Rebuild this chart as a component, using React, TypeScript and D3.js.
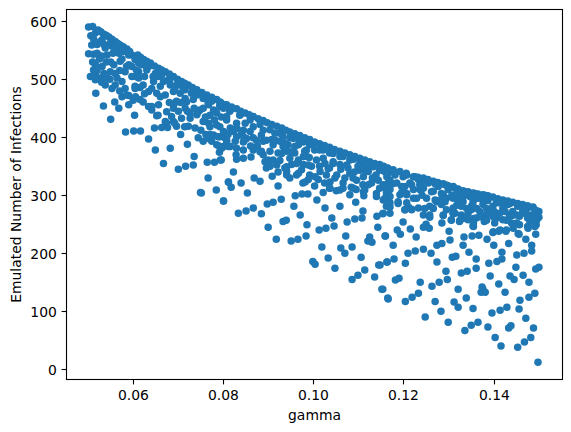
import React from "react";
import * as d3 from "d3";

const xTicks = [0.06, 0.08, 0.1, 0.12, 0.14];
const yTicks = [0, 100, 200, 300, 400, 500, 600];
const xLabel = "gamma";
const yLabel = "Emulated Number of Infections";

const lowerRight: [number, number][] = [
[.1497,12],[.1452,38],[.1415,40],[.1467,47],[.1481,55],[.1402,55],[.1487,71],[.1432,71],[.1437,75],[.1386,73],[.1335,67],[.1349,76],[.1364,81],[.1298,81],[.1247,90],[.1470,88],[.1395,97],[.1413,102],[.1428,107],[.1455,104],[.1353,105],[.1282,100],[.1320,107],[.1311,116],[.1269,117],[.1338,123],[.1203,117],[.1218,124],[.1232,131],[.1165,121],[.1153,138],[.1457,119],[.1477,124],[.1490,131],[.1424,133],[.1373,142],[.1375,138],[.1371,133],[.1380,133],[.1320,138],[.1262,143],[.1278,150],[.1296,155],[.1236,150],[.1181,154],[.1189,157],[.1410,147],[.1477,150],[.1444,155],[.1435,161],[.1464,162],[.1391,161],[.1327,166],[.1340,169],[.1293,169],[.1360,174],[.1448,176],[.1492,173],[.1499,176],[.1388,183],[.1406,186],[.1417,190],[.1360,190],[.1273,185],[.1203,183],[.1178,190],[.1163,185],[.1147,180],[.1307,193],[.1315,195],[.1450,197],[.1466,200],[.1483,204],[.1417,202],[.1344,202],[.1260,200],[.1243,207],[.1225,204],[.1209,200],[.1176,214],[.1331,214],[.1273,214],[.1284,217],[.1399,214],[.1483,214],[.1302,223],[.1432,217],[.1384,224],[.1470,224],[.1333,228],[.1351,230],[.1366,231],[.1159,230],[.1227,228],[.1300,238],[.1192,233],[.1185,240],[.1214,242],[.1492,233],[.1455,233],[.1243,245],[.1249,250],[.1256,243],[.1198,254],[.1284,252],[.1353,247],[.1397,236],[.1410,238],[.1426,238],
];

const lowerMiddle: [number, number][] = [
[.0822,340],[.0811,323],[.0817,314],[.0839,321],[.0853,304],[.0800,290],[.0833,269],[.0850,273],[.0866,278],[.0884,268],[.0897,285],[.0910,288],[.0928,293],[.0959,299],[.0974,302],[.0987,302],[.1007,292],[.1021,305],[.0921,316],[.0868,330],[.0881,324],[.0908,333],[.0921,340],[.0956,281],[.0970,266],[.1025,278],[.1058,281],[.1040,261],[.1074,254],[.1045,247],[.1027,243],[.1012,240],[.0985,249],[.0932,255],[.0939,257],[.0899,245],[.0917,224],[.0950,221],[.0965,224],[.0983,230],[.1018,211],[.1071,230],[.1060,209],[.1069,200],[.1085,211],[.1105,193],[.1032,192],[.0998,186],[.1003,181],[.1047,174],[.1085,155],[.1098,162],[.1113,171],[.1135,159],[.1144,180],[.1162,185],[.1151,138],[.1164,123],[.1120,221],[.1124,228],[.1129,219],[.1158,230],[.1142,245],[.1091,259],[.1107,261],[.1109,273],[.1140,264],[.1153,268],[.1093,288],
];

const lowerLeft: [number, number][] = [
[.0517,476],[.0534,454],[.0550,431],[.0559,461],[.0568,450],[.0603,438],[.0583,409],[.0601,411],[.0616,411],[.0634,397],[.0649,378],[.0682,381],[.0667,355],[.0720,388],[.0735,367],[.0700,345],[.0716,350],[.0733,352],[.0764,357],[.0780,357],[.0793,361],[.0766,330],[.0749,305],[.0751,304],[.0784,309],[.0800,290],[.0811,323],[.0791,374],[.0744,399],[.0755,393],[.0761,405],[.0647,416],[.0663,417],[.0676,417],[.0705,405],
];

const bandLeft: [number, number][] = [
[.0501,590],[.0510,591],[.0506,575],[.0508,559],[.0501,544],[.0512,543],[.0522,585],[.0534,578],[.0546,573],[.0560,565],[.0571,559],[.0586,552],[.0597,542],[.0610,542],[.0623,534],[.0638,528],[.0656,519],[.0671,513],[.0689,505],[.0707,496],[.0722,490],[.0741,482],[.0763,473],[.0785,465],[.0803,456],
[.0527,565],[.0538,554],[.0520,545],[.0553,557],[.0568,545],[.0590,542],[.0542,542],[.0516,525],[.0531,522],[.0505,505],[.0516,499],[.0527,502],[.0538,490],[.0542,502],[.0557,525],[.0571,531],[.0582,513],[.0597,522],[.0612,528],[.0564,502],[.0575,496],[.0553,484],[.0575,470],[.0590,472],[.0604,488],[.0615,486],[.0590,456],[.0615,465],[.0634,453],[.0641,447],[.0656,456],[.0652,437],[.0634,479],[.0645,496],[.0656,505],[.0667,496],[.0682,490],[.0671,473],[.0689,479],[.0704,476],[.0715,467],[.0733,465],[.0696,462],[.0689,450],[.0715,450],[.0674,444],[.0671,427],[.0689,427],[.0707,433],[.0726,433],[.0741,439],[.0748,447],[.0767,456],[.0755,467],[.0778,447],[.0785,442],[.0800,450],[.0807,436],[.0767,424],[.0785,421],[.0800,410],[.0815,416],[.0722,419],[.0737,416],[.0696,419],[.0778,404],[.0792,401],[.0774,393],[.0807,390],[.0785,387],[.0800,384],[.0815,384],[.0612,502],[.0634,522],[.0652,476],[.0660,488],[.0704,490],[.0715,482],[.0741,473],[.0770,467],[.0792,453],[.0815,447],
[.0516,580],[.0531,568],[.0549,562],[.0564,554],[.0579,548],[.0604,534],[.0619,525],[.0630,516],[.0649,510],[.0678,499],[.0696,490],[.0733,479],[.0752,473],[.0774,462],[.0792,456],[.0512,516],[.0516,508],[.0549,513],[.0597,505],[.0612,513],
[.0512,570],[.0520,560],[.0530,540],[.0540,530],[.0525,535],[.0535,510],[.0550,530],[.0548,500],[.0560,490],[.0570,515],
];

const bandMiddle: [number, number][] = [
[.0807,456],[.0829,449],[.0848,442],[.0866,436],[.0888,429],[.0907,422],[.0929,416],[.0947,409],[.0969,403],[.0991,396],[.1013,389],[.1035,383],[.1058,376],[.1080,370],[.1102,364],[.1124,358],[.1146,353],[.1164,347],
[.0814,445],[.0837,439],[.0859,430],[.0881,422],[.0903,413],[.0925,407],[.0947,399],[.0969,393],[.0991,387],[.1013,378],[.1035,373],[.1058,367],[.1080,361],[.1102,355],[.1124,350],[.1146,343],[.1164,337],
[.0807,430],[.0829,424],[.0818,413],[.0840,407],[.0859,410],[.0803,399],[.0826,393],[.0848,396],[.0866,399],[.0884,404],[.0888,393],[.0907,396],[.0925,393],[.0943,387],[.0966,387],[.0796,381],[.0811,384],[.0829,381],[.0844,378],[.0866,378],[.0884,376],[.0903,376],[.0921,373],[.0940,376],[.0958,373],[.0980,376],[.1002,378],[.0828,370],[.0829,362],[.0844,364],[.0861,366],[.0795,361],[.0888,370],[.0892,358],[.0910,361],[.0925,360],[.0895,347],[.0903,350],[.0936,347],[.0951,353],[.0966,361],[.0984,367],[.0977,353],[.0995,350],[.1021,364],[.1043,358],[.1013,350],[.1035,347],[.1058,353],[.1076,347],[.1098,350],[.1116,341],[.1138,335],[.1157,341],[.0940,341],[.0947,330],[.0962,335],[.0973,344],[.0991,335],[.0976,321],[.0988,327],[.1002,316],[.1010,327],[.1024,321],[.1028,335],[.1047,330],[.1035,312],[.1050,308],[.1065,312],[.1069,330],[.1087,330],[.1083,314],[.1080,301],[.1094,310],[.1111,299],[.1109,318],[.1128,321],[.1139,298],[.1146,312],[.1161,304],[.1165,321],[.1161,281],
];

const bandRight: [number, number][] = [
[.1191,341],[.1221,332],[.1243,330],[.1265,324],[.1287,320],[.1309,315],[.1331,308],[.1353,304],[.1375,301],[.1397,297],[.1419,292],[.1441,288],[.1463,284],[.1486,280],[.1499,272],[.1161,347],[.1176,344],
[.1162,332],[.1180,335],[.1206,335],[.1232,327],[.1254,321],[.1276,315],[.1298,310],[.1320,307],[.1342,301],[.1364,295],[.1386,291],[.1408,287],[.1430,284],[.1452,281],[.1474,278],[.1495,273],[.1499,262],
[.1154,318],[.1169,310],[.1184,321],[.1202,315],[.1221,310],[.1243,312],[.1265,307],[.1287,301],[.1309,295],[.1331,289],[.1353,289],[.1375,284],[.1397,281],[.1419,278],[.1441,272],[.1463,269],[.1486,266],
[.1154,292],[.1169,287],[.1187,289],[.1206,301],[.1228,295],[.1250,295],[.1272,289],[.1202,275],[.1217,276],[.1232,278],[.1257,281],[.1283,284],[.1309,278],[.1327,281],[.1349,275],[.1368,272],[.1390,269],[.1412,269],[.1434,266],[.1456,264],[.1474,261],
[.1154,269],[.1169,269],[.1243,266],[.1257,262],[.1287,265],[.1309,269],[.1305,258],[.1323,255],[.1342,258],[.1360,261],[.1378,255],[.1401,252],[.1419,258],[.1438,252],[.1456,249],[.1474,246],[.1493,249],[.1442,243],[.1382,264],[.1405,261],[.1430,258],[.1327,266],[.1342,269],[.1206,287],[.1191,301],[.1169,298],[.1235,310],[.1213,321],[.1235,318],[.1294,295],[.1331,298],[.1375,292],[.1419,287],[.1463,275],[.1486,255],
];

const bandExtraLeft: [number, number][] = [
[.0585,522],[.0607,516],[.0630,522],[.0582,484],[.0604,484],[.0622,490],[.0641,484],[.0644,505],[.0663,507],[.0681,499],[.0692,484],[.0711,482],[.0729,476],[.0718,461],[.0692,459],[.0685,436],[.0726,441],[.0744,444],[.0766,459],[.0770,438],[.0792,461],[.0814,447],[.0836,438],[.0822,410],[.0792,418],[.0770,418],[.0755,427],[.0714,418],[.0692,424],[.0674,424],[.0655,438],[.0641,453],[.0622,461],[.0600,464],[.0585,473],[.0807,395],[.0829,401],[.0848,424],[.0851,398],[.0788,401],[.0766,398],
];

const bandExtraMiddle: [number, number][] = [
[.0844,412],[.0866,418],[.0888,412],[.0914,407],[.0932,401],[.0955,398],[.0977,392],[.0999,387],[.1021,378],[.1043,372],[.1065,367],[.1088,362],[.1110,358],[.0844,392],[.0873,395],[.0910,387],[.0932,384],[.0958,384],[.0984,378],[.0881,375],[.0929,372],[.0947,364],[.0977,367],[.1006,361],[.1043,355],[.1073,352],[.0899,361],[.0918,352],[.0940,349],[.0962,355],[.0988,352],[.1014,341],[.1032,346],[.1051,335],[.1080,338],[.1102,343],[.1121,341],[.0940,335],[.0966,338],[.0981,323],[.1003,332],[.1036,323],[.1065,321],[.1095,326],[.1121,318],[.1036,312],[.1058,309],[.1088,312],[.1110,306],
];

const bandExtraRight: [number, number][] = [
[.1110,349],[.1132,349],[.1154,343],[.1176,341],[.1198,332],[.1224,332],[.1246,326],[.1269,320],[.1291,318],[.1313,312],[.1335,306],[.1357,303],[.1379,300],[.1110,332],[.1143,326],[.1169,326],[.1195,315],[.1217,318],[.1239,315],[.1261,306],[.1283,303],[.1306,300],[.1331,298],[.1354,292],[.1376,292],[.1113,309],[.1139,303],[.1161,309],[.1206,303],[.1221,295],[.1269,292],[.1291,289],[.1317,283],[.1339,277],[.1361,277],[.1383,277],[.1158,295],[.1187,286],[.1210,280],[.1246,277],[.1265,277],[.1294,275],[.1313,269],[.1331,260],[.1354,260],[.1376,266],[.1169,280],[.1202,275],[.1217,275],[.1257,266],[.1287,266],[.1305,257],[.1354,246],
[.1317,300],[.1346,298],[.1376,295],[.1405,289],[.1435,286],[.1464,280],[.1490,275],[.1324,283],[.1357,278],[.1390,275],[.1424,272],[.1450,266],[.1483,266],[.1309,269],[.1339,263],[.1368,263],[.1398,263],[.1427,257],[.1450,252],[.1494,257],[.1475,243],[.1354,252],[.1383,257],[.1398,237],[.1413,240],[.1427,240],[.1453,234],[.1490,246],[.1324,257],[.1442,249],[.1479,255],
];

const topEdgeFill: [number, number][] = [
[.0528,582],[.0540,576],[.0553,569],[.0565,562],[.0578,556],[.0592,548],[.0616,538],[.0630,531],[.0647,523],[.0663,516],[.0680,509],[.0698,500],[.0714,493],[.0731,486],[.0752,477],[.0774,469],[.0794,460],[.0818,452],[.0838,445],[.0857,439],[.0877,432],[.0897,425],[.0918,419],[.0938,412],[.0958,406],[.0980,399],[.1002,392],[.1024,386],[.1046,379],[.1069,373],[.1091,367],[.1113,361],[.1135,355],[.1155,350],[.1205,338],[.1231,331],[.1253,327],[.1275,322],[.1297,317],[.1320,311],[.1342,306],[.1364,302],[.1386,299],[.1408,294],[.1430,290],[.1452,286],[.1474,282],
];

const interiorFill: [number, number][] = [
[.0555,545],[.0575,535],[.0590,525],[.0605,505],[.0625,505],[.0625,475],[.0605,470],[.0570,480],[.0560,510],[.0530,495],[.0520,515],[.0510,530],[.0535,560],[.0660,470],[.0680,460],[.0700,445],[.0720,445],[.0705,460],[.0735,450],[.0755,450],[.0780,430],[.0795,435],[.0760,435],[.0750,412],[.0770,405],[.0810,405],[.0830,415],[.0845,400],[.0860,385],[.0875,385],[.0895,395],[.0915,395],[.0935,390],[.0790,385],[.0950,375],[.0990,365],[.1025,355],[.1060,345],[.1090,340],[.1130,330],[.1175,320],[.1195,305],[.1240,300],[.1280,292],[.1320,290],[.1350,282],[.1400,272],[.1440,265],[.1470,270],
];

const points = [...lowerRight, ...lowerMiddle, ...lowerLeft, ...bandLeft, ...bandMiddle, ...bandRight, ...bandExtraLeft, ...bandExtraMiddle, ...bandExtraRight, ...topEdgeFill, ...interiorFill];

const W = 571, H = 432;
const left = 66.5, right = 562.5, top = 9.5, bottom = 379.5;
const x = d3.scaleLinear().domain([0.04521, 0.15513]).range([left, right]);
const y = d3.scaleLinear().domain([-17.6, 620.3]).range([bottom, top]);
const font = "'DejaVu Sans', sans-serif";

export default function App() {
  return (
    <svg width={W} height={H} style={{ position: "absolute", left: 0, top: 0, background: "#fff" }} fontFamily={font} fontSize={13.9}>
      {points.map((p, i) => (
        <circle key={i} cx={x(p[0])} cy={y(p[1])} r={3.75} fill="#1f77b4" />
      ))}
      <rect x={left} y={top} width={right - left} height={bottom - top} fill="none" stroke="#000" strokeWidth={1.1} />
      {xTicks.map((t) => (
        <g key={t} transform={`translate(${Math.floor(x(t)) + 0.5},${bottom})`}>
          <line y2={4.9} stroke="#000" strokeWidth={1.1} />
          <text y={20.5} textAnchor="middle" fill="#000">{d3.format(".2f")(t)}</text>
        </g>
      ))}
      {yTicks.map((t) => (
        <g key={t} transform={`translate(${left},${Math.floor(y(t)) + 0.5})`}>
          <line x2={-4.9} stroke="#000" strokeWidth={1.1} />
          <text x={-9.7} y={5.5} textAnchor="end" fill="#000">{t}</text>
        </g>
      ))}
      <text x={(left + right) / 2} y={420} textAnchor="middle" fill="#000">{xLabel}</text>
      <text transform={`translate(20.5,${(top + bottom) / 2}) rotate(-90)`} textAnchor="middle" fill="#000">{yLabel}</text>
    </svg>
  );
}
